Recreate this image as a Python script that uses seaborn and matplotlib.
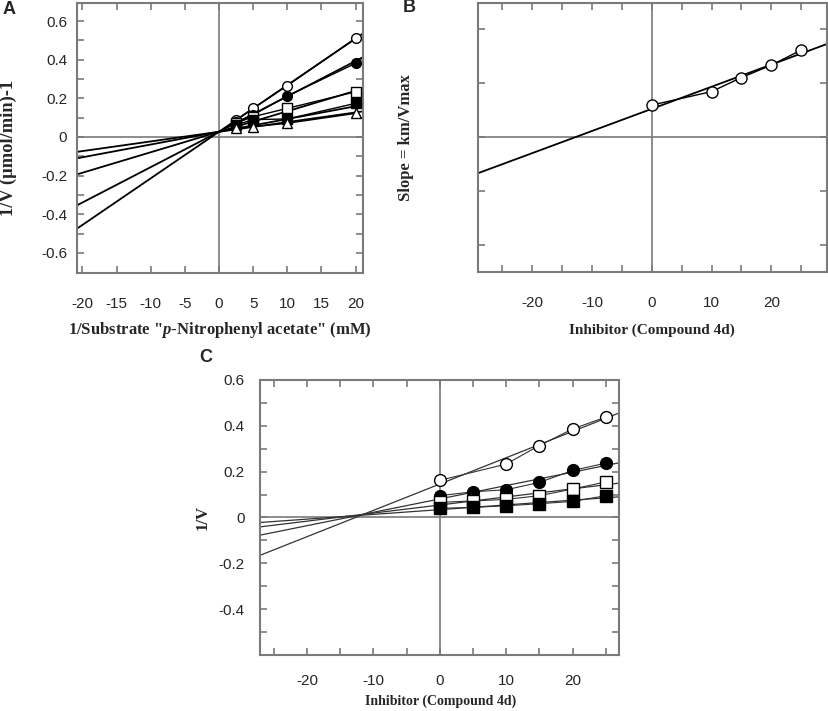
import numpy as np
import pandas as pd
import matplotlib
matplotlib.use("Agg")
import matplotlib.pyplot as plt
import seaborn as sns

sns.set_style("white")
plt.rcParams['font.family'] = ['Liberation Sans', 'DejaVu Sans']
plt.rcParams['axes.unicode_minus'] = False
plt.rcParams['mathtext.fontset'] = 'custom'
plt.rcParams['mathtext.it'] = 'Liberation Serif:italic:bold'
plt.rcParams['mathtext.rm'] = 'Liberation Serif:bold'

# ---- data ----
# Panel A: Lineweaver-Burk, 1/[S] vs 1/V at five inhibitor levels
a_series = ['open_circle', 'filled_circle', 'open_square', 'filled_square', 'triangle']
a_x = [2.5, 5, 10, 20]
a_open_circle = [0.088, 0.148, 0.266, 0.51]
a_filled_circle = [0.075, 0.114, 0.212, 0.381]
a_open_square = [0.072, 0.105, 0.148, 0.234]
a_filled_square = [0.062, 0.09, 0.093, 0.174]
a_triangle = [0.045, 0.053, 0.071, 0.122]
# fitted lines of panel A (slope, intercept)
a_fit_slope = [0.0241, 0.0183, 0.0106, 0.0066, 0.0050]
a_fit_intercept = [0.027, 0.027, 0.027, 0.027, 0.027]

# Panel B: secondary plot, slope vs inhibitor
b_x = [0, 10, 15, 20, 25]
b_slope = [0.059, 0.084, 0.110, 0.133, 0.161]

# Panel C: Dixon plot, inhibitor vs 1/V
c_x = [0, 5, 10, 15, 20, 25]
c_open_circle = [0.162, np.nan, 0.233, 0.314, 0.386, 0.438]
c_filled_circle = [0.095, 0.112, 0.121, 0.153, 0.205, 0.237]
c_open_square = [0.066, 0.072, 0.079, 0.095, 0.124, 0.155]
c_filled_square = [0.04, 0.044, 0.051, 0.06, 0.07, 0.095]

FRAME = '#7a7a7a'
SERIF = ['Liberation Serif', 'DejaVu Serif']

# marker style per series: (marker, facecolor)
styles = {
    'open_circle': ('o', 'white'),
    'filled_circle': ('o', 'black'),
    'open_square': ('s', 'white'),
    'filled_square': ('s', 'black'),
    'triangle': ('^', 'white'),
}


def style_axes(ax, xlim, ylim, xmajor, ymajor, yminor, pad_x, pad_y, fs):
    ax.set_xlim(*xlim)
    ax.set_ylim(*ylim)
    ax.set_xticks(xmajor)
    ax.set_yticks(ymajor)
    ax.set_yticks(yminor, minor=True)
    for s in ax.spines.values():
        s.set_color(FRAME)
        s.set_linewidth(1.5)
        s.set_visible(True)
    ax.tick_params(which='both', direction='in', top=True, right=True,
                   bottom=True, left=True, color=FRAME, width=1.2, length=5,
                   labelsize=fs)
    ax.tick_params(axis='x', which='major', pad=pad_x)
    ax.tick_params(axis='y', which='major', pad=pad_y)
    ax.axhline(0, color=FRAME, lw=1.2, zorder=1)
    ax.axvline(0, color=FRAME, lw=1.2, zorder=1)


def draw_points(ax, x, y, key, ms, lw, color):
    df = pd.DataFrame({'x': x, 'y': y}).dropna()
    m, fc = styles[key]
    # points joined by straight segments
    sns.lineplot(data=df, x='x', y='y', ax=ax, color=color, lw=lw,
                 marker=m, markerfacecolor=fc, markeredgecolor='black',
                 markeredgewidth=1.0, ms=ms, zorder=3)
    return df


def draw_regression(ax, df, lw, color):
    # least squares line over the full x range
    sns.regplot(data=df, x='x', y='y', ax=ax, scatter=False, ci=None,
                truncate=False, line_kws=dict(color=color, lw=lw, zorder=2))


fig = plt.figure(figsize=(8.29, 7.11), dpi=100)
axA = fig.add_axes([0.0929, 0.616, 0.345, 0.3797])
axB = fig.add_axes([0.5762, 0.6174, 0.4214, 0.3784])
axC = fig.add_axes([0.3136, 0.0788, 0.4331, 0.3868])

# ---- A ----
style_axes(axA, (-20.8, 21.1), (-0.704, 0.693), np.arange(-20, 21, 5),
           [-0.6, -0.4, -0.2, 0, 0.2, 0.4, 0.6], np.arange(-0.6, 0.61, 0.1),
           17, 7, 11)
axA.set_yticklabels(['-0.6', '-0.4', '-0.2', '0', '0.2', '0.4', '0.6'])
a_values = [a_open_circle, a_filled_circle, a_open_square, a_filled_square, a_triangle]
x_span = np.array(axA.get_xlim())
for key, vals, k, b in zip(a_series, a_values, a_fit_slope, a_fit_intercept):
    sns.lineplot(x=x_span, y=k * x_span + b, ax=axA, color='black', lw=1.3,
                 zorder=2)
    draw_points(axA, a_x, vals, key, 7, 1.0, 'black')
axA.set_xlim(*x_span)
axA.set_xlabel(r'1/Substrate "$\mathit{p}$-Nitrophenyl acetate" (mM)',
               family=SERIF, fontweight='bold', fontsize=12)
axA.set_ylabel('1/V (\u00b5mol/min)-1', family=SERIF, fontweight='bold',
               fontsize=13.3)
axA.xaxis.label.set_va('center')
axA.yaxis.label.set_va('center')
axA.xaxis.set_label_coords(0.5, -0.211)
axA.yaxis.set_label_coords(-0.241, 0.463)

# ---- B ----
style_axes(axB, (-29.1, 29.3), (-0.25, 0.248), np.arange(-25, 26, 5),
           [-0.2, -0.1, 0, 0.1, 0.2], [], 17, 7, 11)
axB.set_xticks([-20, -10, 0, 10, 20])
axB.set_xticks(np.arange(-25, 26, 5), minor=True)
axB.tick_params(axis='x', which='minor', direction='in', length=5,
                color=FRAME, width=1.2, top=True, bottom=True)
axB.set_yticklabels([])
dfB = draw_points(axB, b_x, b_slope, 'open_circle', 8, 1.0, 'black')
draw_regression(axB, dfB, 1.3, 'black')
axB.set_xlabel('Inhibitor (Compound 4d)', family=SERIF, fontweight='bold',
               fontsize=11)
axB.set_ylabel('Slope = km/Vmax', family=SERIF, fontweight='bold',
               fontsize=12)
axB.xaxis.label.set_va('center')
axB.yaxis.label.set_va('center')
axB.xaxis.set_label_coords(0.499, -0.216)
axB.yaxis.set_label_coords(-0.205, 0.5)

# ---- C ----
style_axes(axC, (-27.1, 27.0), (-0.6, 0.6), np.arange(-25, 26, 5),
           [-0.4, -0.2, 0, 0.2, 0.4, 0.6], np.arange(-0.6, 0.61, 0.1),
           14, 11, 11)
axC.set_yticklabels(['-0.4', '-0.2', '0', '0.2', '0.4', '0.6'])
axC.set_xticks([-20, -10, 0, 10, 20])
axC.set_xticks(np.arange(-25, 26, 5), minor=True)
axC.tick_params(axis='x', which='minor', direction='in', length=5,
                color=FRAME, width=1.2, top=True, bottom=True)
for key, vals in [('open_circle', c_open_circle),
                  ('filled_circle', c_filled_circle),
                  ('open_square', c_open_square),
                  ('filled_square', c_filled_square)]:
    dfC = draw_points(axC, c_x, vals, key, 8.5, 0.8, '#333333')
    draw_regression(axC, dfC, 0.9, '#333333')
axC.set_xlabel('Inhibitor (Compound 4d)', family=SERIF, fontweight='bold',
               fontsize=10)
axC.set_ylabel('1/V', family=SERIF, fontweight='bold', fontsize=12)
axC.xaxis.label.set_va('center')
axC.yaxis.label.set_va('center')
axC.xaxis.set_label_coords(0.503, -0.17)
axC.yaxis.set_label_coords(-0.159, 0.5)

# panel letters
for letter, px, py in [('A', 9, 9), ('B', 409, 8), ('C', 206, 357)]:
    fig.text(px / 829, 1 - py / 711, letter, fontsize=13, fontweight='bold',
             ha='center', va='center')

fig.savefig('out.png', dpi=100)
